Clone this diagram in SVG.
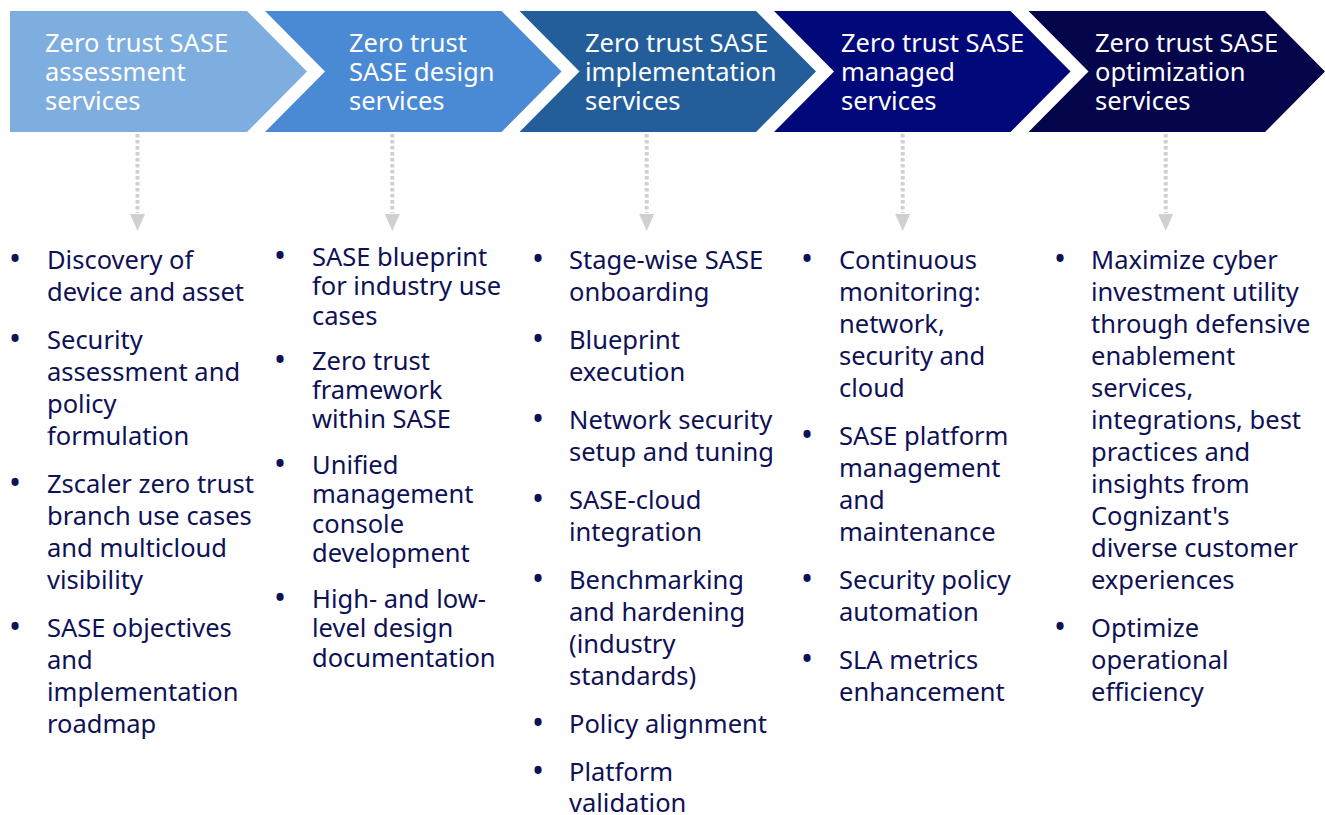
<svg xmlns="http://www.w3.org/2000/svg" width="1325" height="815" viewBox="0 0 1325 815">
<style>
.ct{font-family:"Noto Sans","Liberation Sans",sans-serif;font-size:25.5px;fill:#ffffff}
.bt{font-family:"Noto Sans","Liberation Sans",sans-serif;font-size:25.5px;fill:#0e1156}
.bu{font-family:"Noto Sans","Liberation Sans",sans-serif;font-size:32px;fill:#0e1156;text-anchor:middle}
.dl{stroke:#d0d0d0;stroke-width:4;stroke-dasharray:3.5 2.5;fill:none}
.ah{fill:#d0d0d0}
</style>
<rect width="1325" height="815" fill="#ffffff"/>
<g id="stage1">
<polygon points="10,11 247,11 307,71.5 247,132 10,132" fill="#7eaddf"/>
<text class="ct"><tspan x="45" y="52">Zero trust SASE</tspan><tspan x="45" y="81">assessment</tspan><tspan x="45" y="110">services</tspan></text>
</g>
<g id="stage2">
<polygon points="265,11 501.5,11 561.5,71.5 501.5,132 265,132 325,71.5" fill="#4a8ad4"/>
<text class="ct"><tspan x="349" y="52">Zero trust</tspan><tspan x="349" y="81">SASE design</tspan><tspan x="349" y="110">services</tspan></text>
</g>
<g id="stage3">
<polygon points="519.5,11 756,11 816,71.5 756,132 519.5,132 579.5,71.5" fill="#235e9a"/>
<text class="ct"><tspan x="585" y="52">Zero trust SASE</tspan><tspan x="585" y="81">implementation</tspan><tspan x="585" y="110">services</tspan></text>
</g>
<g id="stage4">
<polygon points="774,11 1010.5,11 1070.5,71.5 1010.5,132 774,132 834,71.5" fill="#01087a"/>
<text class="ct"><tspan x="841" y="52">Zero trust SASE</tspan><tspan x="841" y="81">managed</tspan><tspan x="841" y="110">services</tspan></text>
</g>
<g id="stage5">
<polygon points="1028.5,11 1265,11 1325,71.5 1265,132 1028.5,132 1088.5,71.5" fill="#04054b"/>
<text class="ct"><tspan x="1095" y="52">Zero trust SASE</tspan><tspan x="1095" y="81">optimization</tspan><tspan x="1095" y="110">services</tspan></text>
</g>
<g id="connectors">
<line class="dl" x1="137.5" y1="134" x2="137.5" y2="213"/><polygon class="ah" points="130,214 145,214 137.5,231"/>
<line class="dl" x1="392.3" y1="134" x2="392.3" y2="213"/><polygon class="ah" points="384.8,214 399.8,214 392.3,231"/>
<line class="dl" x1="646.7" y1="134" x2="646.7" y2="213"/><polygon class="ah" points="639.2,214 654.2,214 646.7,231"/>
<line class="dl" x1="902.7" y1="134" x2="902.7" y2="213"/><polygon class="ah" points="895.2,214 910.2,214 902.7,231"/>
<line class="dl" x1="1165.7" y1="134" x2="1165.7" y2="213"/><polygon class="ah" points="1158.2,214 1173.2,214 1165.7,231"/>
</g>
<g id="list1">
<text class="bu"><tspan x="15" y="270">•</tspan><tspan x="15" y="350">•</tspan><tspan x="15" y="494">•</tspan><tspan x="15" y="638">•</tspan></text>
<text class="bt"><tspan x="47" y="269">Discovery of</tspan><tspan x="47" y="301">device and asset</tspan><tspan x="47" y="349">Security</tspan><tspan x="47" y="381">assessment and</tspan><tspan x="47" y="413">policy</tspan><tspan x="47" y="445">formulation</tspan><tspan x="47" y="493">Zscaler zero trust</tspan><tspan x="47" y="525">branch use cases</tspan><tspan x="47" y="557">and multicloud</tspan><tspan x="47" y="589">visibility</tspan><tspan x="47" y="637">SASE objectives</tspan><tspan x="47" y="669">and</tspan><tspan x="47" y="701">implementation</tspan><tspan x="47" y="733">roadmap</tspan></text>
</g>
<g id="list2">
<text class="bu"><tspan x="280" y="267">•</tspan><tspan x="280" y="371">•</tspan><tspan x="280" y="475">•</tspan><tspan x="280" y="609">•</tspan></text>
<text class="bt"><tspan x="312" y="266">SASE blueprint</tspan><tspan x="312" y="295">for industry use</tspan><tspan x="312" y="325">cases</tspan><tspan x="312" y="370">Zero trust</tspan><tspan x="312" y="399">framework</tspan><tspan x="312" y="428">within SASE</tspan><tspan x="312" y="474">Unified</tspan><tspan x="312" y="503">management</tspan><tspan x="312" y="533">console</tspan><tspan x="312" y="562">development</tspan><tspan x="312" y="608">High- and low-</tspan><tspan x="312" y="637">level design</tspan><tspan x="312" y="667">documentation</tspan></text>
</g>
<g id="list3">
<text class="bu"><tspan x="538" y="270">•</tspan><tspan x="538" y="350">•</tspan><tspan x="538" y="430">•</tspan><tspan x="538" y="510">•</tspan><tspan x="538" y="590">•</tspan><tspan x="538" y="734">•</tspan><tspan x="538" y="782">•</tspan></text>
<text class="bt"><tspan x="569" y="269">Stage-wise SASE</tspan><tspan x="569" y="301">onboarding</tspan><tspan x="569" y="349">Blueprint</tspan><tspan x="569" y="381">execution</tspan><tspan x="569" y="429">Network security</tspan><tspan x="569" y="461">setup and tuning</tspan><tspan x="569" y="509">SASE-cloud</tspan><tspan x="569" y="541">integration</tspan><tspan x="569" y="589">Benchmarking</tspan><tspan x="569" y="621">and hardening</tspan><tspan x="569" y="653">(industry</tspan><tspan x="569" y="685">standards)</tspan><tspan x="569" y="733">Policy alignment</tspan><tspan x="569" y="781">Platform</tspan><tspan x="569" y="812">validation</tspan></text>
</g>
<g id="list4">
<text class="bu"><tspan x="807" y="270">•</tspan><tspan x="807" y="446">•</tspan><tspan x="807" y="590">•</tspan><tspan x="807" y="670">•</tspan></text>
<text class="bt"><tspan x="839" y="269">Continuous</tspan><tspan x="839" y="301">monitoring:</tspan><tspan x="839" y="333">network,</tspan><tspan x="839" y="365">security and</tspan><tspan x="839" y="397">cloud</tspan><tspan x="839" y="445">SASE platform</tspan><tspan x="839" y="477">management</tspan><tspan x="839" y="509">and</tspan><tspan x="839" y="541">maintenance</tspan><tspan x="839" y="589">Security policy</tspan><tspan x="839" y="621">automation</tspan><tspan x="839" y="669">SLA metrics</tspan><tspan x="839" y="701">enhancement</tspan></text>
</g>
<g id="list5">
<text class="bu"><tspan x="1060" y="270">•</tspan><tspan x="1060" y="638">•</tspan></text>
<text class="bt"><tspan x="1091" y="269">Maximize cyber</tspan><tspan x="1091" y="301">investment utility</tspan><tspan x="1091" y="333">through defensive</tspan><tspan x="1091" y="365">enablement</tspan><tspan x="1091" y="397">services,</tspan><tspan x="1091" y="429">integrations, best</tspan><tspan x="1091" y="461">practices and</tspan><tspan x="1091" y="493">insights from</tspan><tspan x="1091" y="525">Cognizant's</tspan><tspan x="1091" y="557">diverse customer</tspan><tspan x="1091" y="589">experiences</tspan><tspan x="1091" y="637">Optimize</tspan><tspan x="1091" y="669">operational</tspan><tspan x="1091" y="701">efficiency</tspan></text>
</g>
</svg>
